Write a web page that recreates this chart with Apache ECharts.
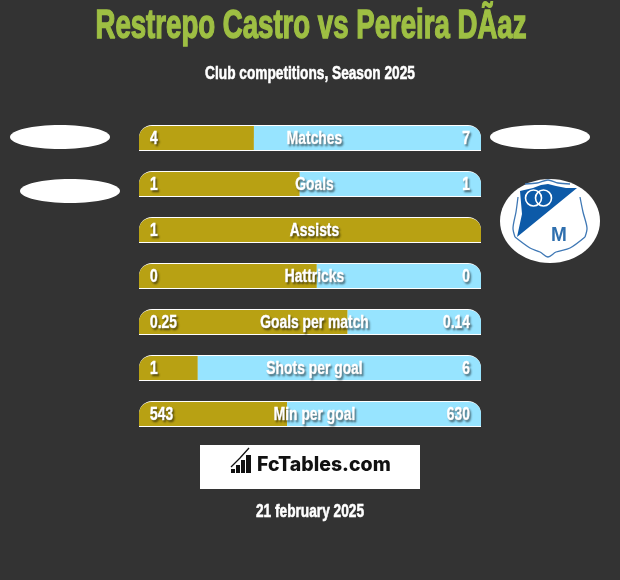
<!DOCTYPE html>
<html><head><meta charset="utf-8">
<style>html,body{margin:0;padding:0;background:#333333}#c{width:620px;height:580px}</style>
<script src="https://cdn.jsdelivr.net/npm/echarts@6/dist/echarts.min.js"></script>
</head><body><div id="c"></div>
<script>
const titleText = 'Restrepo Castro vs Pereira DÃaz';
const subtitleText = 'Club competitions, Season 2025';
const dateText = '21 february 2025';
const brandText = 'FcTables.com';
const categories = ['Matches','Goals','Assists','Hattricks','Goals per match','Shots per goal','Min per goal'];
const leftValues = ['4','1','1','0','0.25','1','543'];
const rightValues = ['7','1','','0','0.14','6','630'];
const leftShare = [33.6,47,100,52,61,17.2,43.3];
const rightShare = [66.4,53,0,48,39,82.8,56.7];
const fullBar = [100,100,100,100,100,100,100];

const OLIVE='#b8a113', SKY='#97e4ff', FONT='"Liberation Sans"';
const SHADOW={textShadowColor:'rgba(0,0,0,0.45)',textShadowBlur:2,textShadowOffsetX:1.5,textShadowOffsetY:1.5};

function label(text,x,y,align){
  return {type:'text',x:x,y:y,scaleX:0.73,style:Object.assign({text:text,font:'bold 19px '+FONT,fill:'#fff',
    align:align,verticalAlign:'middle',stroke:'#fff',lineWidth:0.6},SHADOW)};
}
function renderText(params,api){
  const i=params.dataIndex;
  const l=api.coord([0,i]), r=api.coord([100,i]);
  const y=l[1]+1;
  const kids=[label(leftValues[i],l[0]+11,y,'left'),label(categories[i],(l[0]+r[0])/2+4.5,y,'center')];
  if(rightValues[i]!=='') kids.push(label(rightValues[i],r[0]-11,y,'right'));
  return {type:'group',children:kids};
}
function txt(text,cx,cy,size,sx,fill,lw){
  return {type:'text',x:cx,y:cy,scaleX:sx,z:10,style:{text:text,font:'bold '+size+'px '+FONT,fill:fill,
    align:'center',verticalAlign:'middle',stroke:fill,lineWidth:lw}};
}
function ell(cx,cy,rx,ry){return {type:'ellipse',z:5,shape:{cx,cy,rx,ry},style:{fill:'#fff'}};}
function stroke(points){return {type:'polyline',z:7,shape:{points:points,smooth:0.3},style:{fill:null,stroke:'#3f78b5',lineWidth:1.3}};}

const NAVY='#0d5aa8';
const graphic=[
  txt(titleText,311,26.5,40,0.69,'#9ebf43',1.4),
  txt(subtitleText,310,74,19,0.72,'#ffffff',0.6),
  txt(dateText,310,512,19,0.72,'#ffffff',0.6),
  ell(60,137,50,12), ell(70,191,50,12), ell(540,137,50,12),
  ell(550,221,50,42),
  {type:'polygon',z:6,shape:{points:[[520,191],[533,188],[541,185],[548,184],[556,186],[566,188],[577,188],[517,237],[522,214]]},style:{fill:NAVY}},
  stroke([[525,184],[537,183],[548,180],[558,183],[570,184]]),
  stroke([[518,197],[516,212],[513,228],[515,237]]),
  stroke([[515,237],[530,248],[540,252],[548,257],[556,252],[570,248],[585,237]]),
  stroke([[585,237],[587,228],[583,212],[580,197]]),
  {type:'circle',z:7,shape:{cx:533.5,cy:198,r:8},style:{fill:null,stroke:'#fff',lineWidth:1.6}},
  {type:'circle',z:7,shape:{cx:543.5,cy:198,r:8},style:{fill:null,stroke:'#fff',lineWidth:1.6}},
  {type:'text',z:8,x:559,y:235,scaleX:0.95,style:{text:'M',font:'bold 20px '+FONT,fill:'#2f6fae',align:'center',verticalAlign:'middle'}},
  {type:'rect',z:5,shape:{x:200,y:445,width:220,height:44},style:{fill:'#fff'}},
  {type:'rect',z:6,shape:{x:231,y:469,width:4,height:4},style:{fill:'#111'}},
  {type:'rect',z:6,shape:{x:236,y:465,width:4,height:8},style:{fill:'#111'}},
  {type:'rect',z:6,shape:{x:241,y:460,width:4,height:13},style:{fill:'#111'}},
  {type:'rect',z:6,shape:{x:246,y:455,width:5,height:18},style:{fill:'#111'}},
  {type:'polyline',z:6,shape:{points:[[231,467],[240,458],[249,448]]},style:{fill:null,stroke:'#111',lineWidth:1.3}},
  {type:'text',z:6,x:257,y:465,scaleX:1,style:{text:brandText,font:'800 19.5px Inter',fill:'#111',align:'left',verticalAlign:'middle'}}
];

const radiusLeft=i=>leftShare[i]>=100?[12,12,0,0]:[12,0,0,0];
const chart=echarts.init(document.getElementById('c'),null,{renderer:'canvas'});
const yCommon={type:'category',data:categories,inverse:true,show:false};
chart.setOption({
  animation:false,
  backgroundColor:'#333333',
  grid:{left:139,width:342,top:115,height:322},
  xAxis:{type:'value',min:0,max:100,show:false},
  yAxis:[yCommon,Object.assign({},yCommon)],
  graphic:graphic,
  series:[
    {type:'bar',name:'outline',yAxisIndex:0,data:fullBar,barWidth:26,z:1,silent:true,
      itemStyle:{color:'#ffffff',borderRadius:[13,13,0,0]}},
    {type:'bar',name:'left',yAxisIndex:1,stack:'s',barWidth:24,z:2,
      data:leftShare.map((v,i)=>({value:v,itemStyle:{color:OLIVE,borderRadius:radiusLeft(i)}}))},
    {type:'bar',name:'right',yAxisIndex:1,stack:'s',barWidth:24,z:2,
      data:rightShare.map(v=>({value:v,itemStyle:{color:SKY,borderRadius:[0,12,0,0]}}))},
    {type:'custom',name:'labels',yAxisIndex:0,z:5,silent:true,clip:false,renderItem:renderText,
      data:categories.map((c,i)=>[0,i]),encode:{x:0,y:1}}
  ]
});
</script></body></html>
